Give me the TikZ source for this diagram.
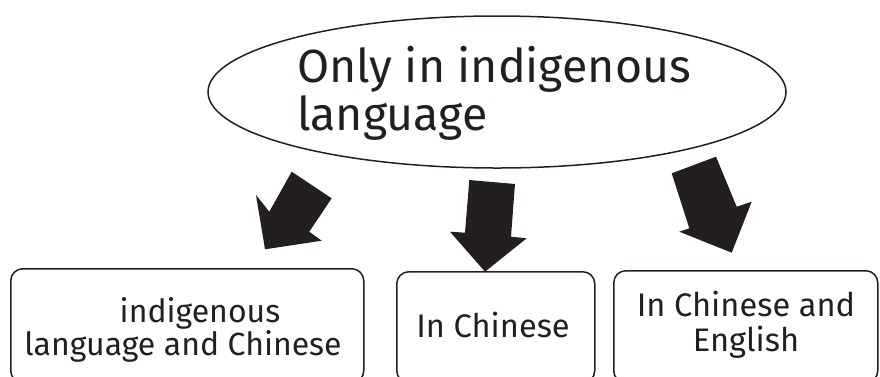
\documentclass[tikz,border=0pt]{standalone}
\usepackage{fontspec}
\setmainfont{Fira Sans}
\usetikzlibrary{shapes.geometric}
\definecolor{ink}{HTML}{231F20}
\begin{document}
\begin{tikzpicture}[x=1pt,y=-1pt,
  outline/.style={draw=ink, line width=1.5pt},
  box/.style={outline, rounded corners=12pt, anchor=north west, inner sep=0pt},
  blockarrow/.style={fill=ink, draw=none},
  label/.style={text=ink, inner sep=0pt, align=center}]
\useasboundingbox (0,0) rectangle (880,376);

% top ellipse and its title (base anchor sits on the last line)
\node[outline, ellipse, minimum width=578pt, minimum height=152pt, inner sep=0pt] (source) at (497,92) {};
\node[text=ink, inner sep=0pt, align=left, anchor=base west,
      font=\fontsize{46.5}{48}\selectfont] (sourcetext) at (297,130)
      {Only in indigenous\\language};

% three target boxes (cut off at the bottom edge)
\node[box, minimum width=353pt, minimum height=114pt] (left) at (10,268) {};
\node[box, minimum width=198pt, minimum height=111pt] (middle) at (396,271) {};
\node[box, minimum width=264pt, minimum height=112pt] (right) at (613,270) {};

\node[label, anchor=base, font=\fontsize{32}{30}\selectfont] (lefttext) at (183,355)
  {\hspace*{34pt}indigenous\\language and Chinese};
\node[label, anchor=base, font=\fontsize{32.6}{35}\selectfont] (middletext) at (493,337)
  {In Chinese};
\node[label, anchor=base, font=\fontsize{32.6}{35}\selectfont] (righttext) at (746,351)
  {In Chinese and\\English};

% block arrows from the ellipse down to the boxes
\fill[blockarrow] (291.7,171.7) -- (331.7,198.3) -- (309.3,231.7) -- (321.7,240.7)
  -- (265,249.3) -- (256,195) -- (269.3,211.7) -- cycle;
\fill[blockarrow] (469.3,180) -- (515,184) -- (511,236.7) -- (526.7,238.3)
  -- (485,271.7) -- (450,231.7) -- (465,232.7) -- cycle;
\fill[blockarrow] (671.7,173.3) -- (716,156.7) -- (736.7,206.7) -- (751.7,201.7)
  -- (731.7,252.7) -- (679.3,231.7) -- (689.3,228.3) -- cycle;
\end{tikzpicture}
\end{document}
